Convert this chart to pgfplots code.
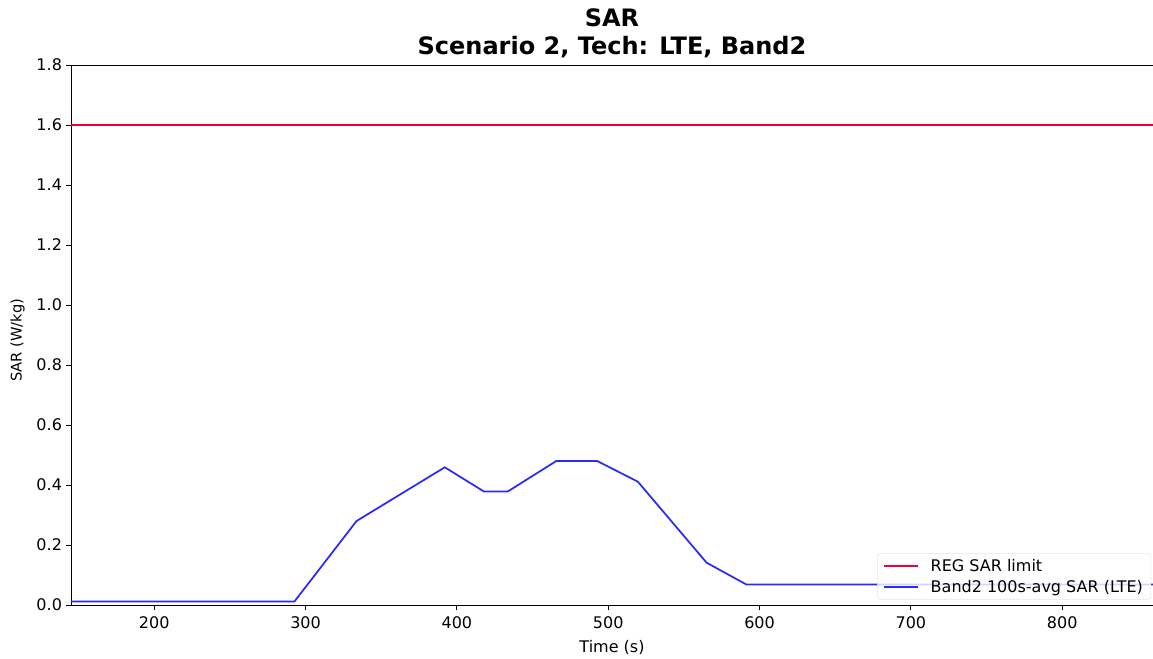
\documentclass[border=0pt]{standalone}
\usepackage{pgfplots}
\pgfplotsset{compat=1.18}
\usepackage{fontspec}
\setmainfont{DejaVu Sans}
\definecolor{limred}{RGB}{236,0,56}
\definecolor{sarblue}{RGB}{40,40,255}
\begin{document}
\begin{tikzpicture}
% page = reference frame (0.75pt per pixel)
\useasboundingbox (-53.25pt,-39.75pt) rectangle (811.5pt,453.75pt);
\begin{axis}[
at={(0,0)}, anchor=south west,
scale only axis,
width=811.5pt,
height=405pt,
xmin=145, xmax=860,
ymin=0, ymax=1.8,
xtick={200,300,400,500,600,700,800},
ytick={0,0.2,0.4,0.6,0.8,1.0,1.2,1.4,1.6,1.8},
xtick pos=bottom, ytick pos=left,
yticklabel style={inner sep=3pt, /pgf/number format/.cd,fixed,fixed zerofill,precision=1},
/pgf/number format/assume math mode=true,
tick align=outside,
major tick length=3.6pt,
tick style={black, line width=0.7pt},
axis line style={line width=0.7pt},
ticklabel style={font=\fontsize{12}{14}\selectfont},
xticklabel style={inner sep=5pt},
xlabel={Time (s)},
ylabel={SAR (W/kg)},
xlabel style={at={(axis description cs:0.5,-0.078)}, anchor=center,
  font=\fontsize{12}{14}\selectfont},
ylabel style={at={(axis description cs:-0.0493,0.49)}, anchor=center,
  font=\fontsize{11}{13}\selectfont},
title={\textbf{SAR}\\\textbf{Scenario 2, Tech: LTE, Band2}},
title style={at={(axis description cs:0.5,1.044)}, anchor=center, align=center,
  font=\fontsize{18}{21}\selectfont},
legend cell align=left,
legend style={at={(axis description cs:0.745,0.01)}, anchor=south west, draw=gray!20, fill=white,
  fill opacity=0.8, text opacity=1, rounded corners=2pt,
  font=\fontsize{12}{14}\selectfont, row sep=1pt, inner xsep=4pt},
legend image code/.code={\draw[#1] plot coordinates {(0cm,0cm) (0.92cm,0cm)};
  \path (1.15cm,0cm);},
]
\addplot[limred, line width=1.1pt] coordinates {(145,1.6) (860,1.6)};
\addlegendentry{REG SAR limit}
\addplot[sarblue, line width=1.3pt] coordinates {
(145,0.012) (292.7,0.012) (333.7,0.28) (392,0.459) (418,0.378) (433.5,0.378)
(465.7,0.48) (492.7,0.48) (519.6,0.411) (565,0.141) (591.4,0.068) (860,0.068)
};
\addlegendentry{Band2 100s-avg SAR (LTE)}
\end{axis}
\end{tikzpicture}
\end{document}
